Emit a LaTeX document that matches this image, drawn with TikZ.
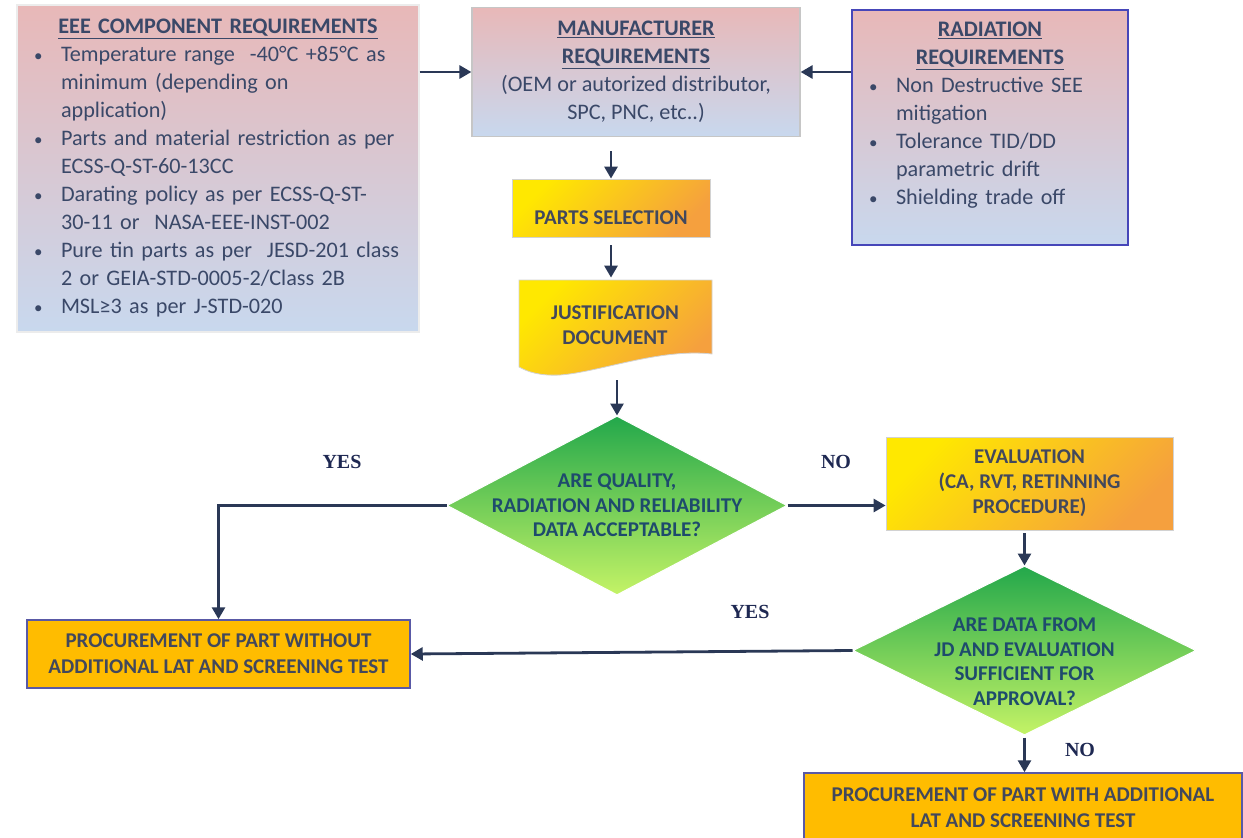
\documentclass[tikz,border=0pt]{standalone}
\usepackage{fontspec}
\setmainfont{Carlito}
\newfontfamily\labfont{Liberation Serif}
\usetikzlibrary{shapes.geometric,arrows.meta}

\definecolor{reqtext}{RGB}{58,72,104}
\definecolor{pinktop}{RGB}{232,184,184}
\definecolor{bluemid}{RGB}{185,205,230}
\definecolor{bluebot}{RGB}{200,216,238}
\definecolor{ylw}{RGB}{255,232,0}
\definecolor{orng}{RGB}{245,160,62}
\definecolor{gold}{RGB}{255,188,0}
\definecolor{goldmid}{RGB}{255,214,10}
\definecolor{grntop}{RGB}{35,168,75}
\definecolor{grnbot}{RGB}{196,243,102}
\definecolor{ytext}{RGB}{66,72,92}
\definecolor{qtext}{RGB}{30,75,108}
\definecolor{arrowcol}{RGB}{42,56,86}
\definecolor{labcol}{RGB}{30,40,82}

% bullet line with hanging indent
\newcommand{\bul}[1]{\par\noindent\hangindent=33pt\hangafter=1\makebox[33pt][l]{\hspace{6pt}{\fontsize{17}{17}\selectfont\textbullet}}#1}

\tikzset{
  reqbox/.style={rectangle, draw=#1, line width=1.2pt, top color=pinktop, middle color=bluemid,
    bottom color=bluebot, text=reqtext, font=\fontsize{22.2}{28}\selectfont, inner xsep=11pt, inner ysep=0pt},
  ybox/.style={rectangle, draw=gray!35, line width=0.8pt, top color=ylw, bottom color=orng,
    shading angle=45, text=ytext, font=\bfseries\fontsize{21}{25}\selectfont, align=center, inner sep=0pt},
  procbox/.style={rectangle, draw=gray!70!blue, line width=1.5pt, top color=gold, middle color=goldmid,
    bottom color=gold, text=ytext, font=\bfseries\fontsize{21}{26}\selectfont, align=center, inner sep=0pt},
  decision/.style={diamond, draw=white, line width=1pt, top color=grntop, bottom color=grnbot, inner sep=0pt},
  qlabel/.style={text=qtext, font=\bfseries\fontsize{21}{24.5}\selectfont, align=center, inner sep=0pt},
  arr/.style={draw=arrowcol, line width=2.8pt, -{Triangle[length=12pt,width=13pt]}},
  lab/.style={text=labcol, font=\labfont\bfseries\fontsize{20}{24}\selectfont}
}

\begin{document}
\begin{tikzpicture}[x=1pt,y=1pt,yscale=-1,xscale=1]
\useasboundingbox (0,0) rectangle (1243,838);

% requirements
\node[reqbox=white!85!gray, text width=380pt, minimum height=327pt] (eee) at (218,168.5) {\raggedright
  {\centering\textbf{\underline{EEE COMPONENT REQUIREMENTS}}\par}
  \bul{Temperature range~ -40°C +85°C as\newline minimum (depending on\newline application)}
  \bul{Parts and material restriction as per\newline ECSS-Q-ST-60-13CC}
  \bul{Darating policy as per ECSS-Q-ST-\newline 30-11 or~ NASA-EEE-INST-002}
  \bul{Pure tin parts as per~ JESD-201 class\newline 2 or GEIA-STD-0005-2/Class 2B}
  \bul{MSL≥3 as per J-STD-020}\par};
\node[reqbox=gray!45, align=center, minimum width=328pt, minimum height=129pt] (mfr) at (636,72)
  {\textbf{\underline{MANUFACTURER}}\\\textbf{\underline{REQUIREMENTS}}\\(OEM or autorized distributor,\\SPC, PNC, etc..)};
\node[reqbox=blue!45!gray, text width=254pt, minimum height=235pt] (rad) at (990,127.5) {\raggedright
  {\centering\textbf{\underline{RADIATION}}\\\textbf{\underline{REQUIREMENTS}}\par}
  \bul{Non Destructive SEE\newline mitigation}
  \bul{Tolerance TID/DD\newline parametric drift}
  \bul{Shielding trade off}\par\rule{0pt}{14pt}};

% selection chain
\node[ybox, minimum width=198pt, minimum height=58pt, text height=32pt, text depth=0pt] (ps) at (611,208) {PARTS SELECTION};
\shade[ybox] (519,280) -- (712,280) -- (712,354) .. controls (660,348) and (600,372) .. (560,375)
  .. controls (540,376) and (528,372) .. (519,367) -- cycle;
\node[ybox, top color=white, bottom color=white, opacity=0, text opacity=1, minimum width=193pt, minimum height=94pt] (jd) at (615,325) {JUSTIFICATION\\DOCUMENT};

\node[decision, minimum width=340pt, minimum height=179pt] (q1) at (617,505.5) {};
\node[qlabel] (q1txt) at (q1) {ARE QUALITY,\\RADIATION AND RELIABILITY\\DATA ACCEPTABLE?};

\node[ybox, minimum width=287pt, minimum height=93pt] (eval) at (1029.5,483.5) {EVALUATION\\(CA, RVT, RETINNING\\PROCEDURE)};

\node[decision, minimum width=343pt, minimum height=169pt] (q2) at (1024.5,650.5) {};
\node[qlabel] (q2txt) at ([yshift=11pt]q2.center) {ARE DATA FROM\\JD AND EVALUATION\\SUFFICIENT FOR\\APPROVAL?};

\node[procbox, minimum width=383pt, minimum height=68pt] (proc1) at (218.5,654) {PROCUREMENT OF PART WITHOUT\\ADDITIONAL LAT AND SCREENING TEST};
\node[procbox, minimum width=438pt, minimum height=70pt] (proc2) at (1023,808) {PROCUREMENT OF PART WITH ADDITIONAL\\LAT AND SCREENING TEST};

% connectors
\draw[arr] (eee.east |- mfr.west) -- (mfr.west);
\draw[arr] (rad.west |- mfr.east) -- (mfr.east);
\draw[arr, shorten <=14pt] (ps.north |- mfr.south) -- (ps.north);
\draw[arr, shorten <=8pt] (ps.south) -- (ps.south |- jd.north);
\draw[arr, shorten <=8pt] (q1.north |- jd.south) -- (q1.north);
\draw[arr] (q1.east) -- (q1.east -| eval.west);
\draw[arr, shorten <=3pt] (q2.north |- eval.south) -- (q2.north);
\draw[arr] (q1.west) -| (proc1.north);
\draw[arr] (q2.west) -- (proc1.east);
\draw[arr, shorten <=2pt] (q2.south) -- (q2.south |- proc2.north);

% labels
\node[lab] (yes1) at (342,462) {YES};
\node[lab] (no1) at (836,462) {NO};
\node[lab] (yes2) at (750,612) {YES};
\node[lab] (no2) at (1080,750) {NO};
\end{tikzpicture}
\end{document}
